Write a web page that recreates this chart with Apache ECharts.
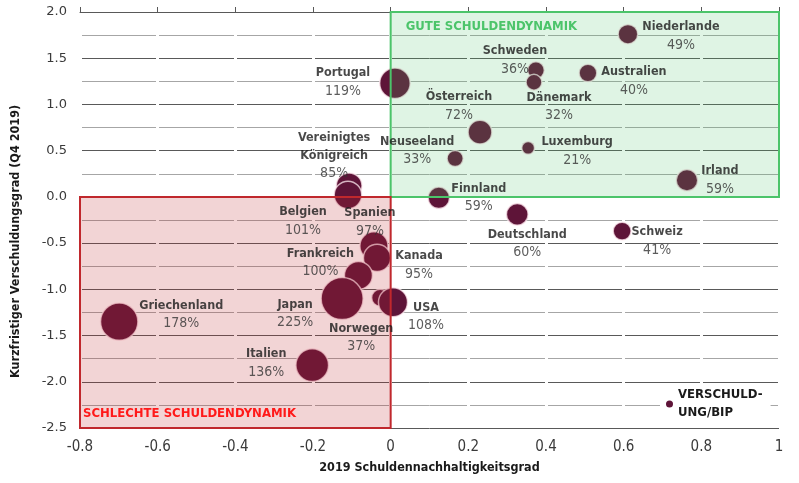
<!DOCTYPE html>
<html>
<head>
<meta charset="utf-8">
<script src="https://cdn.jsdelivr.net/npm/echarts@6/dist/echarts.min.js"></script>
<style>html,body{margin:0;padding:0;background:#fff}#c{width:799px;height:483px}</style>
</head>
<body>
<div id="c"></div>
<script>
// ---- data ----
var countries = ['Niederlande','Schweden','Dänemark','Australien','Portugal','Österreich','Luxemburg','Neuseeland','Irland','Finnland','Vereinigtes\nKönigreich','Spanien','Deutschland','Schweiz','Belgien','Kanada','Frankreich','Japan','Norwegen','USA','Griechenland','Italien'];
var sustainability = [0.611,0.374,0.369,0.508,0.011,0.230,0.354,0.166,0.763,0.124,-0.107,-0.110,0.326,0.596,-0.043,-0.035,-0.083,-0.125,-0.027,0.006,-0.699,-0.202];
var shortTerm = [1.76,1.37,1.24,1.34,1.23,0.70,0.53,0.415,0.18,-0.01,0.12,0.02,-0.19,-0.37,-0.53,-0.66,-0.85,-1.10,-1.09,-1.14,-1.35,-1.82];
var debtToGdp = [49,36,32,40,119,72,21,33,59,59,85,97,60,41,101,95,100,225,37,108,178,136];
var xTicks = [-0.8,-0.6,-0.4,-0.2,0,0.2,0.4,0.6,0.8,1];
var yTicks = [-2.5,-2,-1.5,-1,-0.5,0,0.5,1,1.5,2];
var goodZone = [[0,0],[1,2.02]];
var badZone = [[-0.8,-2.5],[0,0]];
var legendName = 'VERSCHULD-\nUNG/BIP';

// ---- label placement (style, offsets in px from bubble centre) ----
var labelOffset = {
  'Niederlande':[53,2],'Schweden':[-21,-10],'Dänemark':[25,24],'Australien':[46,8],
  'Portugal':[-52,-1],'Österreich':[-21,-26],'Luxemburg':[49,3],'Neuseeland':[-38,-8],
  'Irland':[33,0],'Finnland':[40,0],'Vereinigtes\nKönigreich':[-15,-30],'Spanien':[22,27],
  'Deutschland':[10,29],'Schweiz':[35,10],'Belgien':[-71,-25],'Kanada':[42,7],
  'Frankreich':[-38,-13],'Japan':[-47,15],'Norwegen':[-19,40],'USA':[33,14],
  'Griechenland':[62,-7],'Italien':[-46,-2]
};

var pts = countries.map(function(n,i){ return [sustainability[i], shortTerm[i], debtToGdp[i], n]; });
function sizeOf(v){ return 2.8*Math.sqrt(v[2]); }

var labelData = pts.map(function(p){
  return { value: p, label: { offset: labelOffset[p[3]] } };
});

var FONT = 'DejaVu Sans Condensed';
var chart = echarts.init(document.getElementById('c'), null, {renderer:'canvas'});
chart.setOption({
  animation: false,
  backgroundColor: '#fff',
  grid: { left: 80, right: 20, top: 12, bottom: 55 },
  xAxis: [{
    type: 'value', min: -0.8, max: 1, interval: 0.2, z: 1,
    axisLine: { show: false }, axisTick: { show: false },
    splitLine: { show: true, lineStyle: { color: '#ffffff', width: 3 } },
    axisLabel: { margin: 12, color: '#3a3a3a', fontFamily: FONT, fontSize: 15,
      formatter: function(v){ var r = Math.round(v*10)/10; return (r===0||r===1)? String(r) : r.toFixed(1); } },
    name: '2019 Schuldennachhaltigkeitsgrad', nameLocation: 'middle', nameGap: 33,
    nameTextStyle: { fontFamily: FONT, fontWeight: 'bold', fontSize: 12.5, color: '#1a1a1a' }
  },{
    type: 'value', min: -0.8, max: 1, interval: 0.2, z: 1.5,
    axisLine: { show: true, onZero: true, lineStyle: { color: '#595959', width: 1 } },
    axisTick: { show: true, length: 5, lineStyle: { color: '#595959' } },
    axisLabel: { show: false }, splitLine: { show: false }
  }],
  yAxis: {
    type: 'value', min: -2.5, max: 2, interval: 0.5,
    axisLine: { show: false }, axisTick: { show: false },
    axisLabel: { margin: 13, color: '#3a3a3a', fontFamily: 'DejaVu Sans', fontSize: 13,
      formatter: function(v){ return v.toFixed(1); } },
    splitLine: { show: true, lineStyle: { color: '#595959', width: 1 } },
    minorTick: { show: false, splitNumber: 2 },
    minorSplitLine: { show: true, lineStyle: { color: '#a6a6a6', width: 1 } }
  },
  legend: {
    data: [{ name: legendName, icon: 'circle', itemStyle: { borderWidth: 0 } }],
    left: 660, top: 384, itemWidth: 7, itemHeight: 7, itemGap: 4,
    backgroundColor: '#fff', padding: [2, 8, 4, 6],
    textStyle: { fontFamily: FONT, fontWeight: 'bold', fontSize: 13, color: '#1a1a1a', lineHeight: 18 }
  },
  graphic: [{
    type: 'text', left: 9, top: 'middle', rotation: Math.PI/2,
    x: 18, y: 230,
    style: { text: 'Kurzfristiger Verschuldungsgrad (Q4 2019)', fontFamily: FONT, fontWeight: 'bold',
      fontSize: 12.5, fill: '#1a1a1a', align: 'center', verticalAlign: 'middle' }
  }],
  series: [{
    name: legendName,
    type: 'scatter', z: 2,
    data: pts,
    symbolSize: sizeOf,
    itemStyle: { color: '#5e1438', borderColor: 'rgba(255,235,240,0.75)', borderWidth: 1.5, opacity: 1 },
    emphasis: { disabled: true }
  },{
    name: 'zones', type: 'scatter', data: [], z: 3,
    markArea: {
      z: 3, silent: true,
      data: [
        [{ coord: goodZone[0], itemStyle: { color: 'rgba(76,196,106,0.18)', borderColor: '#4cc46a', borderWidth: 2 },
           label: { show: true, position: [16, 9], formatter: 'GUTE SCHULDENDYNAMIK', color: '#4cc46a',
             fontFamily: FONT, fontWeight: 'bold', fontSize: 13 } },
         { coord: goodZone[1] }],
        [{ coord: badZone[0], itemStyle: { color: 'rgba(192,40,45,0.2)', borderColor: '#c0282d', borderWidth: 2 },
           label: { show: true, position: [4, 211], formatter: 'SCHLECHTE SCHULDENDYNAMIK', color: '#ff1a1a',
             fontFamily: FONT, fontWeight: 'bold', fontSize: 13 } },
         { coord: badZone[1] }]
      ]
    }
  },{
    name: 'labels', type: 'scatter', z: 4,
    data: labelData,
    symbolSize: sizeOf,
    itemStyle: { color: 'rgba(0,0,0,0)', borderWidth: 0 },
    emphasis: { disabled: true },
    label: {
      show: true, position: 'inside', align: 'center', verticalAlign: 'middle',
      formatter: function(p){
        var lines = p.value[3].split('\n').map(function(s){ return '{n|' + s + '}'; });
        lines.push('{p|' + p.value[2] + '%}');
        return lines.join('\n');
      },
      rich: {
        n: { fontFamily: FONT, fontWeight: 'bold', fontSize: 12.5, color: '#1a1a1a', lineHeight: 18, align: 'center' },
        p: { fontFamily: FONT, fontSize: 14, color: '#333', lineHeight: 18, align: 'center' }
      }
    }
  }]
});
</script>
</body>
</html>
